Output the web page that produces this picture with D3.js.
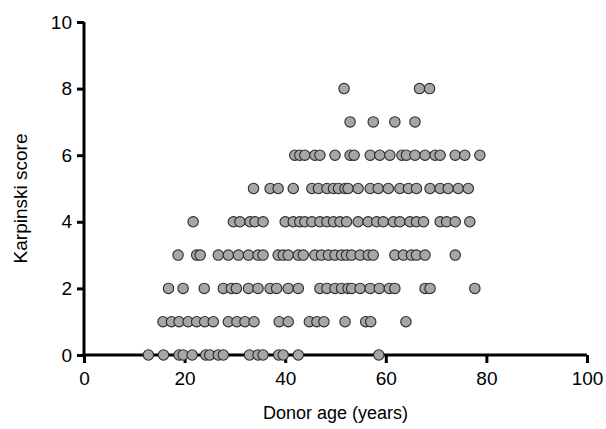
<!DOCTYPE html>
<html>
<head>
<meta charset="utf-8">
<script src="https://cdn.jsdelivr.net/npm/d3@7"></script>
<style>
  body { margin: 0; background: #fff; }
  text { font-family: "Liberation Sans", Arial, sans-serif; }
</style>
</head>
<body>
<div id="chart"></div>
<script>
// --- Data: donor ages for each Karpinski score ---
const score0 = [12.8, 15.8, 18.9, 19.7, 21.5, 24.2, 25.0, 26.7, 27.7, 32.9, 34.6, 35.6, 38.7, 39.6, 42.6, 58.6];
const score1 = [15.7, 17.4, 18.9, 20.7, 22.4, 24.0, 25.7, 28.7, 30.4, 32.0, 33.8, 38.8, 40.6, 44.8, 46.3, 47.7, 51.9, 56.0, 57.0, 64.0];
const score2 = [16.8, 19.7, 23.9, 27.7, 29.3, 30.3, 32.7, 34.6, 37.0, 38.3, 40.6, 42.6, 46.9, 48.3, 49.9, 51.2, 52.5,
                53.2, 54.9, 56.9, 58.7, 60.7, 61.8, 67.8, 68.8, 77.7];
const score3 = [18.7, 22.4, 23.1, 26.7, 28.7, 30.7, 32.7, 34.6, 35.6, 38.6, 39.6, 40.6, 42.6, 43.6, 45.9, 47.2, 48.6, 49.9, 51.2, 52.2,
                53.2, 54.9, 56.5, 57.5, 61.8, 63.5, 65.1, 66.1, 67.8, 73.8];
const score4 = [21.7, 29.7, 31.0, 33.0, 34.0, 35.6, 40.0, 41.6, 42.9, 43.9, 45.3, 46.9, 48.3, 49.6, 50.9, 52.2,
                54.5, 56.5, 58.2, 59.5, 61.5, 62.8, 64.8, 66.1, 67.5, 70.8, 72.1, 73.8, 76.7];
const score5 = [33.7, 37.0, 38.6, 41.6, 45.3, 46.6, 48.3, 49.6, 50.6, 51.9, 52.5, 54.5, 56.9, 58.5, 60.5, 62.8, 64.5, 66.1,
                68.8, 70.8, 72.4, 74.4, 76.4];
const score6 = [41.9, 42.9, 43.9, 45.9, 46.9, 49.9, 52.9, 53.7, 56.9, 58.8, 60.8, 63.2, 64.1, 65.8, 67.8, 69.8, 70.8, 73.8, 75.7, 78.7];
const score7 = [52.9, 57.5, 61.8, 65.8];
const score8 = [51.7, 66.7, 68.7];

const xTicks = [0, 20, 40, 60, 80, 100];
const yTicks = [0, 2, 4, 6, 8, 10];

const rows = [score0, score1, score2, score3, score4, score5, score6, score7, score8];
const points = rows.flatMap((ages, s) => ages.map(a => ({ age: a, score: s })));

// --- Size and margins ---
const margin = { top: 22, right: 19, bottom: 74, left: 84 },
      width = 606 - margin.left - margin.right,
      height = 429 - margin.top - margin.bottom;

const svg = d3.select("#chart")
  .append("svg")
    .attr("width", 606)
    .attr("height", 429)
  .append("g")
    .attr("transform", `translate(${margin.left},${margin.top})`);

// --- Scales ---
const x = d3.scaleLinear().domain([0, 100]).range([0, width]);
const y = d3.scaleLinear().domain([0, 10]).range([height, 0]);

// --- Axes ---
const xAxis = svg.append("g")
  .attr("transform", `translate(0,${height})`)
  .call(d3.axisBottom(x).tickValues(xTicks).tickSize(8).tickPadding(9).tickSizeOuter(0));

const yAxis = svg.append("g")
  .call(d3.axisLeft(y).tickValues(yTicks).tickSize(7).tickPadding(5).tickSizeOuter(0));

[xAxis, yAxis].forEach(g => {
  g.select(".domain").attr("stroke", "#000").attr("stroke-width", 3);
  g.selectAll(".tick line").attr("stroke", "#000").attr("stroke-width", 3);
  g.selectAll(".tick text").attr("fill", "#000").style("font-size", "19px");
});
xAxis.select(".domain").attr("d", `M-1.5,0H${width}`);
yAxis.select(".domain").attr("d", `M0,${height + 1.5}V0`);

// --- Points ---
svg.selectAll(".dot")
  .data(points)
  .enter()
  .append("circle")
    .attr("class", "dot")
    .attr("cx", d => x(d.age))
    .attr("cy", d => y(d.score))
    .attr("r", 5.2)
    .attr("fill", "#a6a6a9")
    .attr("stroke", "#2b2b2b")
    .attr("stroke-width", 1.1);

// --- Axis titles ---
svg.append("text")
  .attr("x", width / 2)
  .attr("y", height + 64)
  .attr("text-anchor", "middle")
  .style("font-size", "18px")
  .text("Donor age (years)");

svg.append("text")
  .attr("transform", "rotate(-90)")
  .attr("x", -height / 2 - 10)
  .attr("y", -57)
  .attr("text-anchor", "middle")
  .style("font-size", "19px")
  .text("Karpinski score");
</script>
</body>
</html>
